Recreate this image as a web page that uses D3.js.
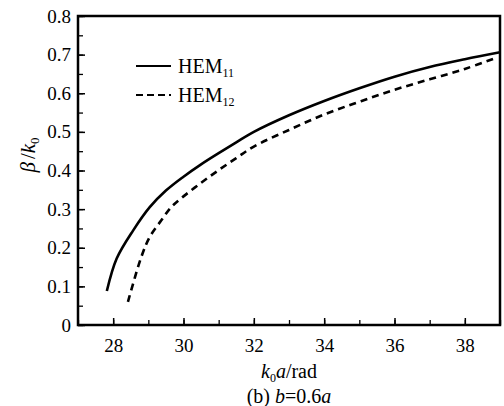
<!DOCTYPE html>
<html>
<head>
<meta charset="utf-8">
<script src="https://cdn.jsdelivr.net/npm/d3@7"></script>
<style>
  body { margin: 0; background: #fff; }
  svg text { font-family: "Liberation Serif", "Times New Roman", Times, Tinos, "DejaVu Serif", serif !important; fill: #000; }
</style>
</head>
<body>
<script>
// values
var hem11X = [27.82, 28.1, 28.57, 29.04, 29.5, 30.0, 30.5, 31.0, 31.5, 32.0, 33.0, 34.0, 35.0, 36.0, 37.0, 38.0, 39.0];
var hem11Y = [0.088, 0.172, 0.245, 0.305, 0.348, 0.384, 0.416, 0.445, 0.473, 0.500, 0.543, 0.580, 0.613, 0.643, 0.668, 0.688, 0.706];
var hem12X = [28.42, 28.8, 29.04, 29.37, 29.65, 30.0, 30.5, 31.0, 31.5, 32.0, 33.0, 34.0, 35.0, 36.0, 37.0, 38.0, 38.9];
var hem12Y = [0.06, 0.176, 0.228, 0.271, 0.305, 0.333, 0.368, 0.401, 0.432, 0.462, 0.505, 0.545, 0.578, 0.609, 0.636, 0.663, 0.692];
var xTicks = [28, 30, 32, 34, 36, 38];
var yTicks = [0, 0.1, 0.2, 0.3, 0.4, 0.5, 0.6, 0.7, 0.8];

var w = 504, h = 406;
var m = {left: 78, right: 4, top: 16, bottom: 81};
var serif = '"Liberation Serif", "Times New Roman", Times, Tinos, "DejaVu Serif", serif';

var svg = d3.select('body').append('svg')
  .attr('width', w)
  .attr('height', h)
  .attr('font-family', serif);

var x = d3.scaleLinear().domain([27, 39]).range([m.left, w - m.right]);
var y = d3.scaleLinear().domain([0, 0.8]).range([h - m.bottom, m.top]);

// minor ticks (inward, no labels)
svg.append('g')
  .attr('transform', 'translate(0,' + y(0) + ')')
  .call(d3.axisBottom(x).tickValues(d3.range(27, 40, 1)).tickSize(-5).tickFormat(''))
  .call(g => g.select('.domain').remove())
  .selectAll('line').attr('stroke-width', 1.3);
svg.append('g')
  .attr('transform', 'translate(' + x(27) + ',0)')
  .call(d3.axisLeft(y).tickValues(d3.range(0, 0.81, 0.05)).tickSize(-5).tickFormat(''))
  .call(g => g.select('.domain').remove())
  .selectAll('line').attr('stroke-width', 1.3);

// major ticks
var xAxis = svg.append('g')
  .attr('transform', 'translate(0,' + y(0) + ')')
  .call(d3.axisBottom(x).tickValues(xTicks).tickSize(-7).tickPadding(14).tickFormat(d3.format('d')))
  .attr('font-family', serif);
xAxis.select('.domain').remove();
xAxis.selectAll('line').attr('stroke-width', 1.5);
xAxis.selectAll('text').attr('font-size', 19);

var yAxis = svg.append('g')
  .attr('transform', 'translate(' + x(27) + ',0)')
  .call(d3.axisLeft(y).tickValues(yTicks).tickSize(-7).tickPadding(7)
    .tickFormat(d => d === 0 ? '0' : d3.format('.1f')(d)))
  .attr('font-family', serif);
yAxis.select('.domain').remove();
yAxis.selectAll('line').attr('stroke-width', 1.5);
yAxis.selectAll('text').attr('font-size', 19);

// frame
svg.append('rect')
  .attr('x', x(27)).attr('y', y(0.8))
  .attr('width', x(39) - x(27)).attr('height', y(0) - y(0.8))
  .attr('fill', 'none').attr('stroke', '#000').attr('stroke-width', 2.5);

var line = d3.line().curve(d3.curveCatmullRom.alpha(0.5));

svg.append('path')
  .attr('d', line(hem11X.map((v, i) => [x(v), y(hem11Y[i])])))
  .attr('fill', 'none').attr('stroke', '#000').attr('stroke-width', 2.6);

svg.append('path')
  .attr('d', line(hem12X.map((v, i) => [x(v), y(hem12Y[i])])))
  .attr('fill', 'none').attr('stroke', '#000').attr('stroke-width', 2.6)
  .attr('stroke-dasharray', '7,5');

// legend
var leg = [{name: '11', dash: null, yy: 66}, {name: '12', dash: '7,4', yy: 95}];
leg.forEach(function (d) {
  svg.append('line')
    .attr('x1', 136).attr('x2', 171).attr('y1', d.yy).attr('y2', d.yy)
    .attr('stroke', '#000').attr('stroke-width', 2)
    .attr('stroke-dasharray', d.dash);
  var t = svg.append('text').attr('x', 178).attr('y', d.yy + 7).attr('font-size', 20);
  t.append('tspan').text('HEM');
  t.append('tspan').attr('font-size', 12).attr('dy', 4).text(d.name);
});

// axis titles
var yl = svg.append('text')
  .attr('transform', 'translate(35,155) rotate(-90)')
  .attr('text-anchor', 'middle').attr('font-size', 21).attr('font-style', 'italic');
yl.append('tspan').text('β');
yl.append('tspan').attr('font-style', 'normal').attr('dx', 3).text('/');
yl.append('tspan').text('k');
yl.append('tspan').attr('font-size', 13).attr('dy', 4).attr('font-style', 'normal').text('0');

var xl = svg.append('text')
  .attr('x', 289).attr('y', 378).attr('text-anchor', 'middle').attr('font-size', 20);
xl.append('tspan').attr('font-style', 'italic').text('k');
xl.append('tspan').attr('font-size', 12).attr('dy', 4).text('0');
xl.append('tspan').attr('font-style', 'italic').attr('dy', -4).text('a');
xl.append('tspan').text('/rad');

var cap = svg.append('text')
  .attr('x', 289).attr('y', 403).attr('text-anchor', 'middle').attr('font-size', 20);
cap.append('tspan').text('(b) ');
cap.append('tspan').attr('font-style', 'italic').text('b');
cap.append('tspan').text('=0.6');
cap.append('tspan').attr('font-style', 'italic').text('a');
</script>
</body>
</html>
